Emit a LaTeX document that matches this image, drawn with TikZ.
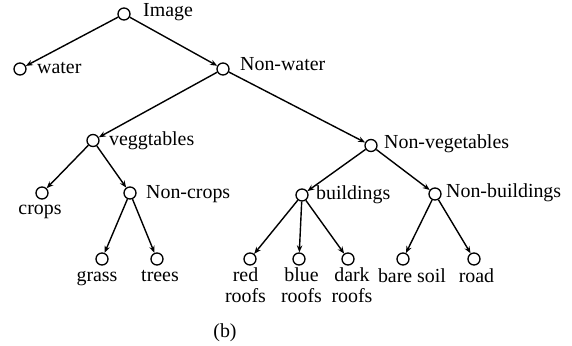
\documentclass[tikz,border=0pt]{standalone}
\usepackage{fontspec}
\setmainfont{Liberation Serif}
\usetikzlibrary{arrows.meta}
\begin{document}
\begin{tikzpicture}[x=1pt,y=-1pt,
  nd/.style={circle,draw,line width=1.3pt,minimum size=12pt,inner sep=0pt},
  lbr/.style={anchor=base west,inner sep=0pt,font=\fontsize{19.9}{20.8}\selectfont},
  lbb/.style={anchor=base,inner sep=0pt,align=center,font=\fontsize{19.9}{20.8}\selectfont},
  arr/.style={line width=1.4pt,-{Stealth[length=7pt,width=5.5pt]}}]
\useasboundingbox (0,0) rectangle (572,345);
% circles
\node[nd] (img) at (124,14) {};
\node[nd] (wat) at (20,69) {};
\node[nd] (nwat) at (223,69) {};
\node[nd] (veg) at (93,140.5) {};
\node[nd] (nveg) at (371,145.5) {};
\node[nd] (crp) at (42,193) {};
\node[nd] (ncrp) at (130,193) {};
\node[nd] (bld) at (302,195) {};
\node[nd] (nbld) at (435,194) {};
\node[nd] (grs) at (102,259) {};
\node[nd] (tre) at (157,259) {};
\node[nd] (red) at (250,259) {};
\node[nd] (blu) at (299,259) {};
\node[nd] (drk) at (348,259) {};
\node[nd] (bar) at (403,259) {};
\node[nd] (rod) at (474,259) {};
% labels
\node[lbr] (limg) at (143,16.5) {Image};
\node[lbr] (lwat) at (37,73) {water};
\node[lbr] (lnwat) at (240,70.5) {Non-water};
\node[lbr] (lveg) at (109,145) {veggtables};
\node[lbr] (lnveg) at (384,148) {Non-vegetables};
\node[lbr] (lncrp) at (146,198) {Non-crops};
\node[lbr] (lbld) at (316,199) {buildings};
\node[lbr] (lnbld) at (446,197) {Non-buildings};
\node[lbb] (lcrp) at (40,214) {crops};
\node[lbb] (lgrs) at (97,281.5) {grass};
\node[lbb] (ltre) at (160,281.5) {trees};
\node[lbb] (lred) at (245.5,302.7) {red\\roofs};
\node[lbb] (lblu) at (301.5,302.7) {blue\\roofs};
\node[lbb] (ldrk) at (352,302.7) {dark\\roofs};
\node[lbb] (lbar) at (412,282) {bare soil};
\node[lbb] (lrod) at (476.5,282) {road};
\node[lbb] (cap) at (225,337) {(b)};
% edges
\draw[arr] (img) -- (wat);
\draw[arr] (img) -- (nwat);
\draw[arr] (nwat) -- (veg);
\draw[arr] (nwat) -- (nveg);
\draw[arr] (veg) -- (crp);
\draw[arr] (veg) -- (ncrp);
\draw[arr] (ncrp) -- (grs);
\draw[arr] (ncrp) -- (tre);
\draw[arr] (nveg) -- (bld);
\draw[arr] (nveg) -- (nbld);
\draw[arr] (bld) -- (red);
\draw[arr] (bld) -- (blu);
\draw[arr] (bld) -- (drk);
\draw[arr] (nbld) -- (bar);
\draw[arr] (nbld) -- (rod);
\end{tikzpicture}
\end{document}
